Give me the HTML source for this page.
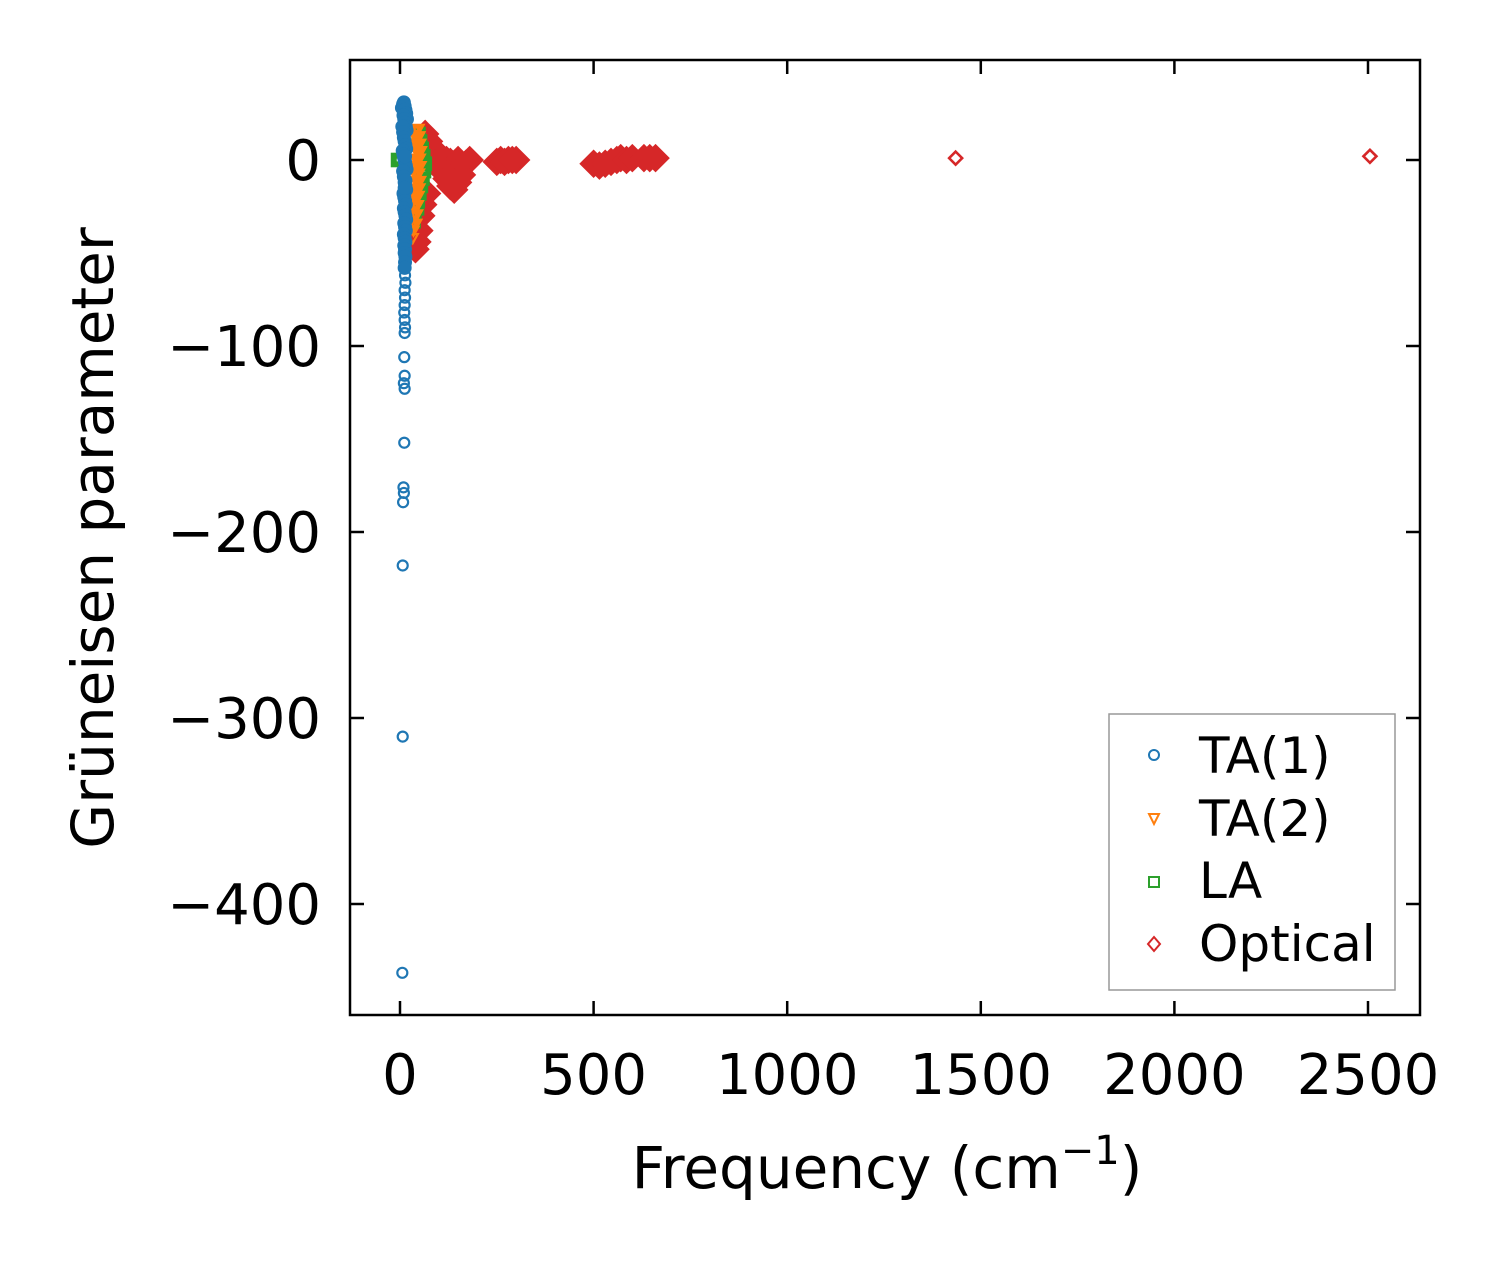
<!DOCTYPE html>
<html><head><meta charset="utf-8"><style>
body{margin:0;background:#fff}
svg{display:block}
text{font-family:"DejaVu Sans","Liberation Sans",sans-serif;fill:#000}
</style></head><body>
<svg id="chart" width="1503" height="1264" viewBox="0 0 1503 1264">
<rect x="0" y="0" width="1503" height="1264" fill="#fff"/>
<g id="marks"></g>
<g id="axes"></g>
</svg>
<script>
const xTicks=[0,500,1000,1500,2000,2500];
const yTicks=[0,-100,-200,-300,-400];
const yTickLabels=["0","\u2212100","\u2212200","\u2212300","\u2212400"];
const ta1Freq=[5,8,10,12,14,16,18,9,11,13,15,17,6,8,10,12,14,16,7,9,11,13,15,17,8,10,12,14,16,9,11,13,15,10,12,14,16,11,13,15,10,12,14,11,13,12,14,13,12,13,14,12,13,12,11,12,13,12,14,13,12,11,12,10,12,11,9,10,8,7,7,6];
const ta1Gam=[28,30,31,29,27,25,22,24,22,20,18,16,18,15,12,10,8,6,5,3,1,-1,-3,-5,-6,-9,-12,-14,-16,-18,-20,-22,-24,-26,-28,-30,-32,-34,-36,-38,-40,-42,-44,-46,-48,-50,-52,-55,-58,-62,-66,-70,-74,-78,-82,-86,-90,-93,-11,2,-15,-106,-116,-120,-123,-152,-176,-179,-184,-218,-310,-437];
const ta2Freq=[42,44,46,48,45,47,43,46,44,42,40,38,36,35,33];
const ta2Gam=[16,12,8,4,0,-4,-8,-12,-16,-20,-25,-30,-35,-38,-42];
const laFreq=[-5,48,52,56,60,64,62,58,54,50,46,44,42,40];
const laGam=[0,14,10,6,2,-2,-6,-10,-14,-18,-22,-26,-30,-34];
const optFreq=[65,75,85,95,105,80,90,100,110,120,130,140,150,160,170,180,120,130,140,150,160,110,120,130,70,60,55,50,45,40,42,260,280,300,250,270,290,500,515,530,545,560,570,585,600,630,645,660,1435,2505];
const optGam=[14,10,6,4,2,0,-2,-4,1,0,-1,-2,0,-3,-2,0,-8,-12,-16,-12,-8,-6,-10,-14,-18,-24,-30,-38,-44,-48,-28,0,0,0,-1,-1,0,-2,-3,-2,-1,0,1,0,1,1,1,1,1,2];

const L=350,R=1420,T=60,B=1015;
const X=v=>400+v*0.3872;
const Y=v=>160-v*1.86;
const NS="http://www.w3.org/2000/svg";
const marks=document.getElementById('marks'),axes=document.getElementById('axes');
function mk(tag,attrs,parent){const e=document.createElementNS(NS,tag);for(const k in attrs)e.setAttribute(k,attrs[k]);parent.appendChild(e);return e;}
function marker(kind,cx,cy,color,g){
  let e;
  if(kind==='circle') e=mk('circle',{cx:cx,cy:cy,r:5,fill:'none',stroke:color,'stroke-width':2.2},g);
  else if(kind==='tri') e=mk('polygon',{points:`${cx-5},${cy-4} ${cx+5},${cy-4} ${cx},${cy+5}`,fill:'none',stroke:color,'stroke-width':2.2},g);
  else if(kind==='square') e=mk('rect',{x:cx-4.3,y:cy-4.3,width:8.6,height:8.6,fill:'none',stroke:color,'stroke-width':2.2},g);
  else e=mk('polygon',{points:`${cx},${cy-6.5} ${cx+6.5},${cy} ${cx},${cy+6.5} ${cx-6.5},${cy}`,fill:'none',stroke:color,'stroke-width':2.6},g);
  return e;
}
function series(name,fr,gm,kind,color,thick){
  const g=mk('g',{},marks);
  
  
  for(let i=0;i<fr.length;i++){
    const e=marker(kind,X(fr[i]),Y(gm[i]),color,g);
    
    
    if(thick&&i<fr.length-2){e.setAttribute('stroke-width',thick);}
  }
}
series('optical-series',optFreq,optGam,'diamond','#d62728',11);
series('la-series',laFreq,laGam,'square','#2ca02c',6);
series('ta2-series',ta2Freq,ta2Gam,'tri','#ff7f0e',5);
series('ta1-series',ta1Freq,ta1Gam,'circle','#1f77b4',0);
(function(){const g=mk('g',{},marks);


for(let i=0;i<ta1Freq.length;i++){ if(ta1Gam[i]>-60){const e=mk('circle',{cx:X(ta1Freq[i]),cy:Y(ta1Gam[i]),r:7,fill:'#1f77b4'},g);

}}})();

const fr=mk('rect',{x:L,y:T,width:R-L,height:B-T,fill:'none',stroke:'#000','stroke-width':2.5},axes);


xTicks.forEach(v=>{
  const x=X(v);
  mk('line',{x1:x,y1:B,x2:x,y2:B-14,stroke:'#000','stroke-width':2.5},axes);
  mk('line',{x1:x,y1:T,x2:x,y2:T+14,stroke:'#000','stroke-width':2.5},axes);
  const t=mk('text',{x:x,y:1094,'font-size':56,'text-anchor':'middle'},axes);t.textContent=String(v);
  
  
});
yTicks.forEach((v,i)=>{
  const y=Y(v);
  mk('line',{x1:L,y1:y,x2:L+14,y2:y,stroke:'#000','stroke-width':2.5},axes);
  mk('line',{x1:R,y1:y,x2:R-14,y2:y,stroke:'#000','stroke-width':2.5},axes);
  const t=mk('text',{x:321,y:y+20,'font-size':56,'text-anchor':'end'},axes);t.textContent=yTickLabels[i];
  
  
});
</script>
<div style="position:absolute;left:0;top:0;width:1503px;height:1264px;pointer-events:none">
<svg width="1503" height="1264" style="position:absolute;left:0;top:0">
<text x="887" y="1188" font-size="58" text-anchor="middle">Frequency (cm<tspan dy="-24" font-size="40">−1</tspan><tspan dy="24">)</tspan></text>
<text transform="translate(113,538) rotate(-90)" font-size="58" text-anchor="middle">Grüneisen parameter</text>
<g>
<rect x="1109" y="714" width="286" height="276" fill="#fff" stroke="#999" stroke-width="1.5"/>
<g><circle cx="1154" cy="755" r="5" fill="none" stroke="#1f77b4" stroke-width="2"/><text x="1199" y="773" font-size="50">TA(1)</text></g>
<g><polygon points="1149,814 1159,814 1154,824" fill="none" stroke="#ff7f0e" stroke-width="2"/><text x="1199" y="836" font-size="50">TA(2)</text></g>
<g><rect x="1149" y="877" width="10" height="10" fill="none" stroke="#2ca02c" stroke-width="2"/><text x="1199" y="898" font-size="50">LA</text></g>
<g><polygon points="1154,937 1160,944 1154,951 1148,944" fill="none" stroke="#d62728" stroke-width="2"/><text x="1199" y="961" font-size="50">Optical</text></g>
</g>
</svg></div>
</body></html>
